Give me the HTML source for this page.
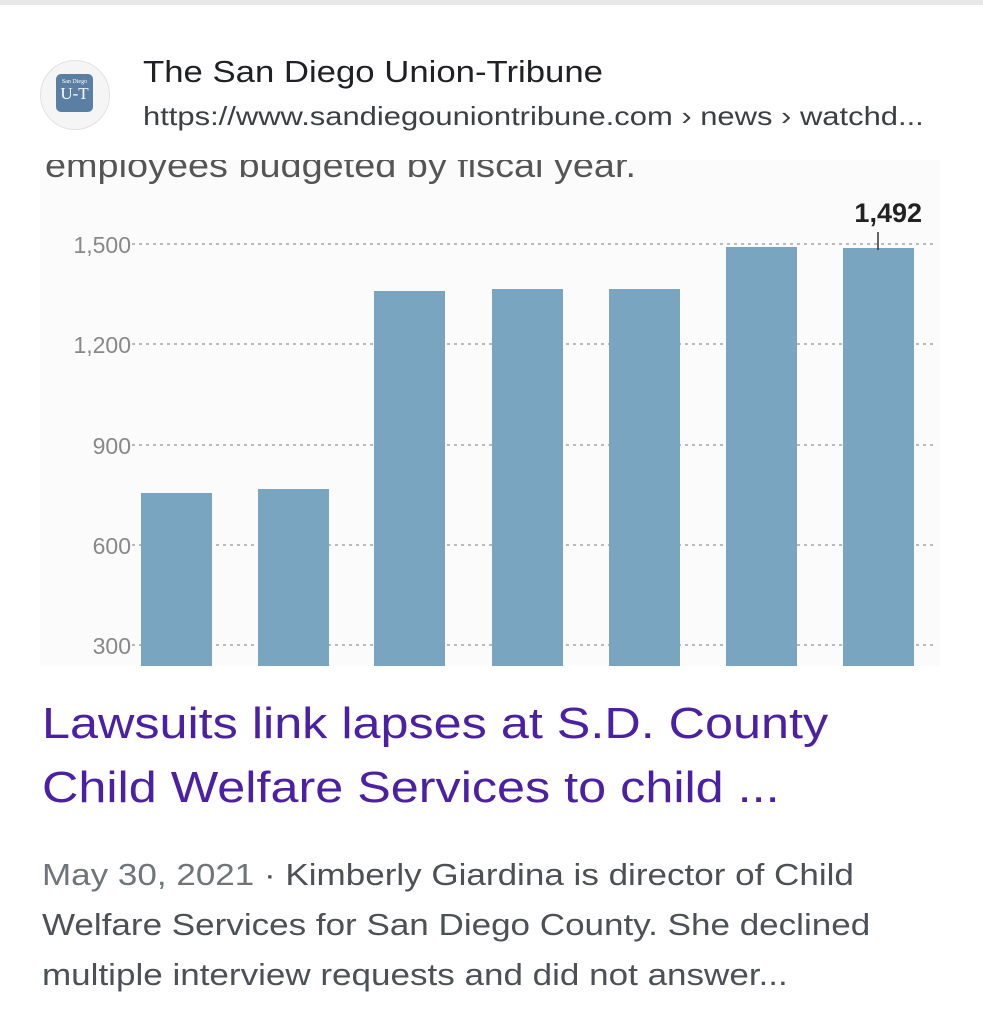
<!DOCTYPE html>
<html><head><style>
body{margin:0;width:983px;height:1024px;background:#fff;position:relative;overflow:hidden;font-family:"Liberation Sans",sans-serif}
.abs{position:absolute;white-space:nowrap;transform-origin:0 0}
</style></head><body>
<div class="abs" style="left:0;top:0;width:983px;height:5px;background:#e8e8e8"></div>
<div class="abs" style="left:40px;top:60px;width:68px;height:68px;border-radius:50%;background:#f5f5f5;border:1px solid #e2e2e2"></div>
<div class="abs" style="left:56px;top:74px;width:37px;height:38px;border-radius:5px;background:#5a7fa3;color:#fff;font-family:'Liberation Serif',serif;font-size:17px;text-align:center;line-height:14px"><span style="font-size:6px;line-height:10px;display:block;padding-top:3px">San Diego</span>U-T</div>
<div class="abs" style="left:143px;top:54px;font-size:31px;color:#202124;transform:scaleX(1.12)">The San Diego Union-Tribune</div>
<div class="abs" style="left:143px;top:101px;font-size:26px;color:#3c4043;transform:scaleX(1.19)">https://www.sandiegouniontribune.com › news › watchd...</div>
<svg class="abs" style="left:0;top:0" width="983" height="1024">
<rect x="40" y="160" width="900" height="506" fill="#fbfbfb"/>
<clipPath id="c"><rect x="40" y="160" width="900" height="506"/></clipPath>
<text x="45" y="177" font-size="34" fill="#555" clip-path="url(#c)" font-family="Liberation Sans" textLength="591" lengthAdjust="spacingAndGlyphs">employees budgeted by fiscal year.</text>
<g stroke="#bbb" stroke-width="2" stroke-dasharray="3,4">
<line x1="132" y1="244" x2="935" y2="244"/><line x1="132" y1="344" x2="935" y2="344"/><line x1="132" y1="445" x2="935" y2="445"/><line x1="132" y1="545" x2="935" y2="545"/><line x1="132" y1="645" x2="935" y2="645"/>
</g>
<g font-size="23" fill="#888" text-anchor="end" font-family="Liberation Sans">
<text x="131" y="253">1,500</text><text x="131" y="353">1,200</text><text x="131" y="454">900</text><text x="131" y="554">600</text><text x="131" y="654">300</text>
</g>
<g fill="#79a5c1">
<rect x="141" y="493" width="71" height="173"/><rect x="258" y="489" width="71" height="177"/><rect x="374" y="291" width="71" height="375"/><rect x="492" y="289" width="71" height="377"/><rect x="609" y="289" width="71" height="377"/><rect x="726" y="247" width="71" height="419"/><rect x="843" y="248" width="71" height="418"/>
</g>
<line x1="878" y1="232" x2="878" y2="250" stroke="#333" stroke-width="1.5"/>
<text x="922" y="222" font-size="27" font-weight="bold" fill="#222" text-anchor="end" font-family="Liberation Sans">1,492</text>
</svg>
<div class="abs" style="left:42px;top:692px;font-size:44px;color:#4b20a3;line-height:64px;transform:scaleX(1.144)">Lawsuits link lapses at S.D. County<br>Child Welfare Services to child ...</div>
<div class="abs" style="left:42px;top:850px;font-size:31px;color:#4d5156;line-height:50px;transform:scaleX(1.13)"><span style="color:#70757a">May 30, 2021</span> · Kimberly Giardina is director of Child<br>Welfare Services for San Diego County. She declined<br>multiple interview requests and did not answer...</div>
</body></html>
